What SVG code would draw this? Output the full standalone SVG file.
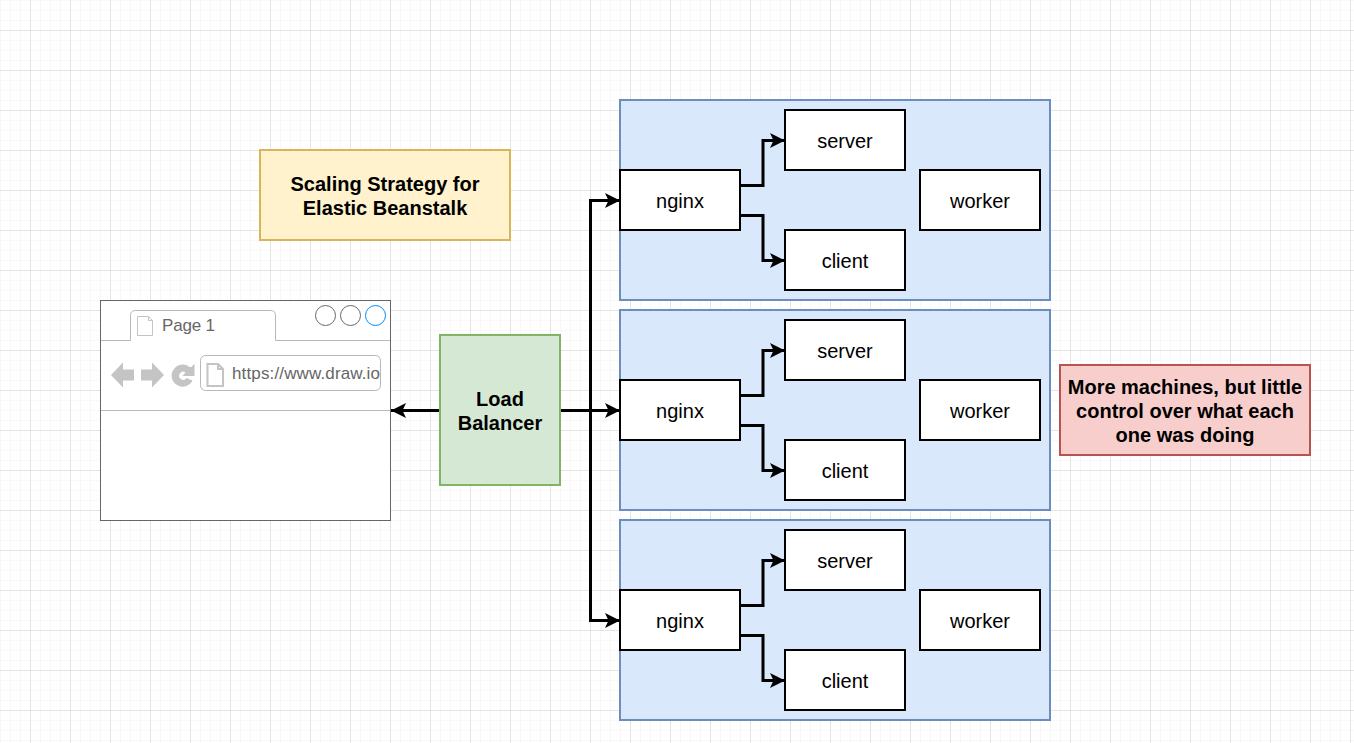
<svg xmlns="http://www.w3.org/2000/svg" width="1354" height="743" viewBox="0 0 1354 743">
<style>
text{font-family:"Liberation Sans",Arial,sans-serif;font-size:20px;fill:#000;text-anchor:middle}
.b{font-weight:bold}
.box{fill:#fff;stroke:#000;stroke-width:2}
.host{fill:#dae8fc;stroke:#6c8ebf;stroke-width:2}
.c{fill:none;stroke:#000;stroke-width:3}
.g{fill:#c4c4c4;stroke:none}
.m{fill:none;stroke:#b8b8b8;stroke-width:1}
.w{fill:#666;font-size:17px;text-anchor:start}
</style>
<defs>
<pattern id="minor" width="10" height="10" patternUnits="userSpaceOnUse"><path d="M0 0V10M0 0H10" fill="none" stroke="#f8f8f8" stroke-width="2"/></pattern>
<pattern id="major" x="-10" y="-10" width="40" height="40" patternUnits="userSpaceOnUse"><path d="M0.5 0V40M0 0.5H40" fill="none" stroke="#e4e4e4" stroke-width="1"/></pattern>
<marker id="arrow" markerUnits="userSpaceOnUse" markerWidth="16" markerHeight="18" refX="15" refY="8" orient="auto-start-reverse"><path d="M0 0.5L15 8L0 15.5L3.5 8Z" fill="#000"/></marker>
</defs>
<rect width="1354" height="743" fill="#fff"/>
<rect width="1354" height="743" fill="url(#minor)"/>
<rect width="1354" height="743" fill="url(#major)"/>

<g id="host-1"><rect class="host" x="620" y="100" width="430" height="200"/></g>
<g id="host-2"><rect class="host" x="620" y="310" width="430" height="200"/></g>
<g id="host-3"><rect class="host" x="620" y="520" width="430" height="200"/></g>

<g id="connectors" transform="translate(0.5 0.5)">
<path class="c" marker-end="url(#arrow)" d="M560 410H590V200H619.500"/>
<path class="c" marker-end="url(#arrow)" d="M560 410H619.500"/>
<path class="c" marker-end="url(#arrow)" d="M590 410V620H619.500"/>
<path class="c" marker-end="url(#arrow)" d="M440 410H390.500"/>
<path class="c" marker-end="url(#arrow)" d="M740 185H762.500V140H784.500"/>
<path class="c" marker-end="url(#arrow)" d="M740 215H762.500V260H784.500"/>
<path class="c" marker-end="url(#arrow)" d="M740 395H762.500V350H784.500"/>
<path class="c" marker-end="url(#arrow)" d="M740 425H762.500V470H784.500"/>
<path class="c" marker-end="url(#arrow)" d="M740 605H762.500V560H784.500"/>
<path class="c" marker-end="url(#arrow)" d="M740 635H762.500V680H784.500"/>
</g>

<g id="nginx-1"><rect class="box" x="620" y="170" width="120" height="60"/><text x="680" y="208">nginx</text></g>
<g id="server-1"><rect class="box" x="785" y="110" width="120" height="60"/><text x="845" y="148">server</text></g>
<g id="client-1"><rect class="box" x="785" y="230" width="120" height="60"/><text x="845" y="268">client</text></g>
<g id="worker-1"><rect class="box" x="920" y="170" width="120" height="60"/><text x="980" y="208">worker</text></g>

<g id="nginx-2"><rect class="box" x="620" y="380" width="120" height="60"/><text x="680" y="418">nginx</text></g>
<g id="server-2"><rect class="box" x="785" y="320" width="120" height="60"/><text x="845" y="358">server</text></g>
<g id="client-2"><rect class="box" x="785" y="440" width="120" height="60"/><text x="845" y="478">client</text></g>
<g id="worker-2"><rect class="box" x="920" y="380" width="120" height="60"/><text x="980" y="418">worker</text></g>

<g id="nginx-3"><rect class="box" x="620" y="590" width="120" height="60"/><text x="680" y="628">nginx</text></g>
<g id="server-3"><rect class="box" x="785" y="530" width="120" height="60"/><text x="845" y="568">server</text></g>
<g id="client-3"><rect class="box" x="785" y="650" width="120" height="60"/><text x="845" y="688">client</text></g>
<g id="worker-3"><rect class="box" x="920" y="590" width="120" height="60"/><text x="980" y="628">worker</text></g>

<g id="load-balancer"><rect x="440" y="335" width="120" height="150" fill="#d5e8d4" stroke="#82b366" stroke-width="2"/><text class="b" x="500" y="406">Load</text><text class="b" x="500" y="430">Balancer</text></g>

<g id="title"><rect x="260" y="150" width="250" height="90" fill="#fff2cc" stroke="#d6b656" stroke-width="2"/><text class="b" x="385" y="191">Scaling Strategy for</text><text class="b" x="385" y="215">Elastic Beanstalk</text></g>

<g id="note"><rect x="1060" y="365" width="250" height="90" fill="#f8cecc" stroke="#b85450" stroke-width="2"/><text class="b" x="1185" y="394">More machines, but little</text><text class="b" x="1185" y="418">control over what each</text><text class="b" x="1185" y="442">one was doing</text></g>

<g id="browser">
<rect x="100.5" y="300.500" width="290" height="220" fill="#fff" stroke="#666" stroke-width="1"/>
<path class="m" d="M101 340.500H130.500V315.500Q130.500 310.500 135.500 310.500H270.500Q275.500 310.500 275.500 315.500V340.500H390"/>
<path class="m" d="M101 410.500H390"/>
<path d="M137.500 316.500H148.500L152.500 320.500V335.500H137.500Z M148.500 316.500V320.500H152.500" fill="none" stroke="#c4c4c4" stroke-width="1"/>
<text class="w" x="162" y="331" textLength="53">Page 1</text>
<circle cx="325.500" cy="315.500" r="10" fill="#fff" stroke="#666"/>
<circle cx="350.500" cy="315.500" r="10" fill="#fff" stroke="#666"/>
<circle cx="375.500" cy="315.500" r="10" fill="#fff" stroke="#008cff"/>
<path class="g" d="M111 375L123 362.500V369.500H134V380.500H123V387.500Z"/>
<path class="g" d="M164 375L152 362.500V369.500H141V380.500H152V387.500Z"/>
<path class="g" d="M189.500 367A11 11 0 1 0 192.500 380.500L186.500 378A4 4 0 1 1 185.500 372.500L182.500 376H194.500V363.500L191.500 367Z"/>
<rect class="m" x="200.500" y="355.500" width="180" height="35" rx="5" ry="5"/>
<path d="M207.500 364H218L223 369V386H207.500Z M218 364V369H223" fill="#fff" stroke="#c4c4c4" stroke-width="2"/>
<text class="w" x="232" y="379" textLength="148">https://www.draw.io</text>
</g>
</svg>
